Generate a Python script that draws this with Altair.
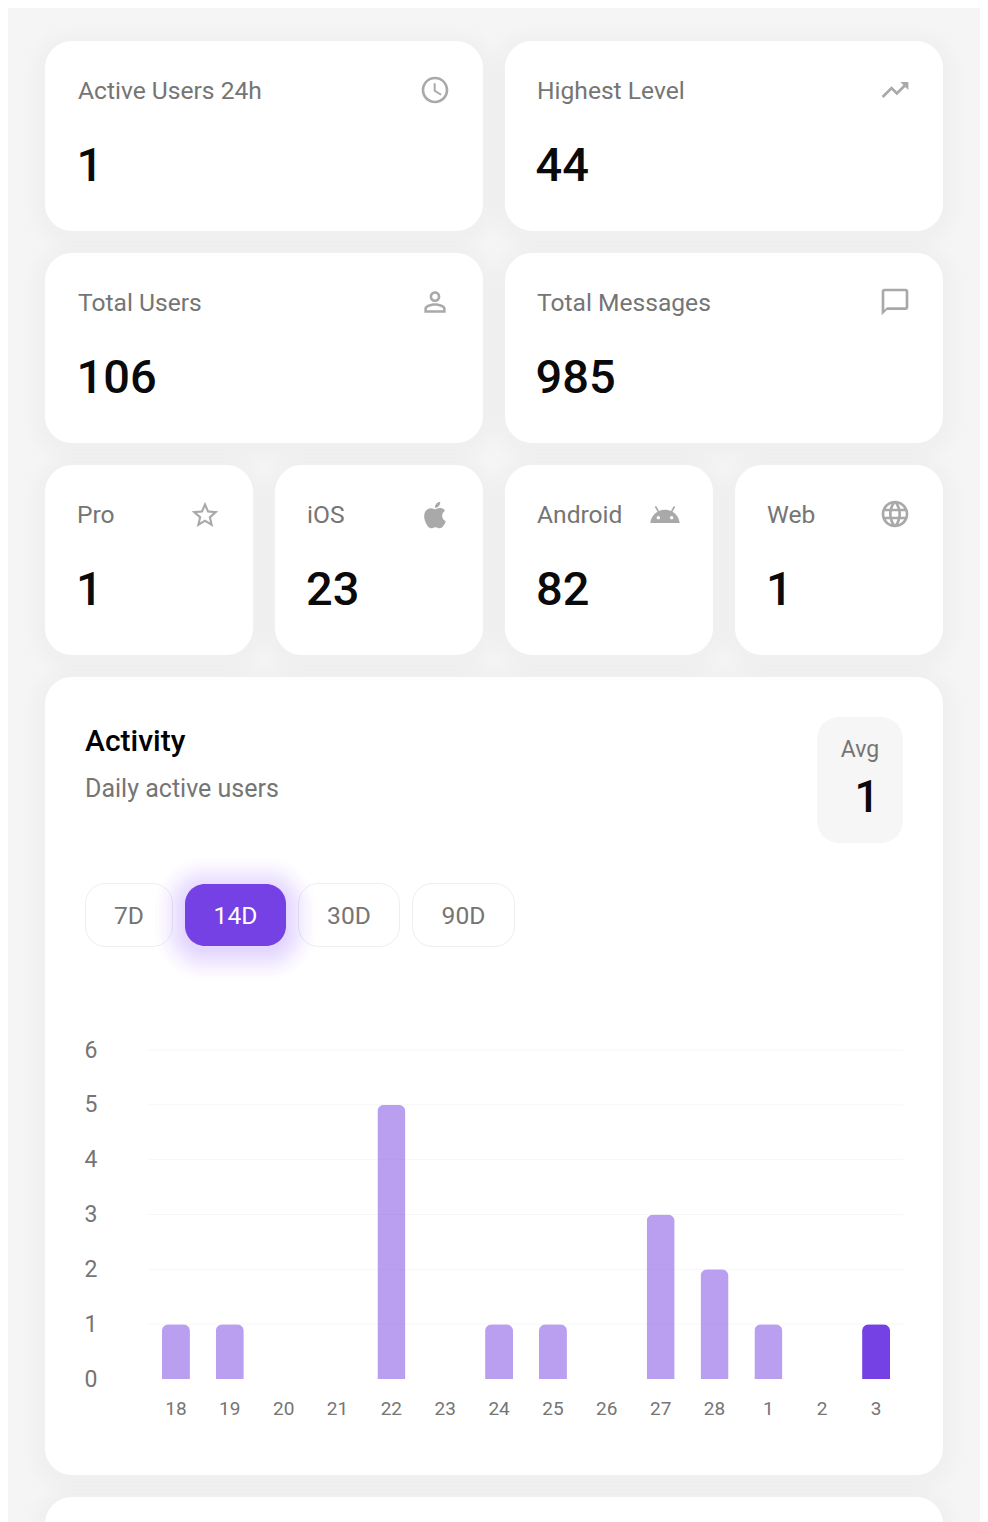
import altair as alt
import pandas as pd

# stats shown in the cards
wide_titles = ['Active Users 24h', 'Highest Level', 'Total Users', 'Total Messages']
wide_values = ['1', '44', '106', '985']
small_titles = ['Pro', 'iOS', 'Android', 'Web']
small_values = ['1', '23', '82', '1']

# activity chart
days = ['18', '19', '20', '21', '22', '23', '24', '25', '26', '27', '28', '1', '2', '3']
active_users = [1, 1, 0, 0, 5, 0, 1, 1, 0, 3, 2, 1, 0, 1]
y_ticks = [0, 1, 2, 3, 4, 5, 6]
ranges = ['7D', '14D', '30D', '90D']
today = '3'

PURPLE = '#7540e4'
GREY = '#757575'
ICON = '#a9a9a9'
FONT = 'Roboto'
# plot area in page pixels, the page margin takes 8px
PLOT_X, PLOT_Y, PLOT_W, PLOT_H = 148, 1050, 755, 329
MARGIN = 8

one = pd.DataFrame({'n': [0]})

# material icons, 24 unit paths
ICONS = {
    'clock': 'M11.99 2C6.47 2 2 6.48 2 12s4.47 10 9.99 10C17.52 22 22 17.52 22 12S17.52 2 11.99 2zM12 20c-4.42 0-8-3.58-8-8s3.58-8 8-8 8 3.58 8 8-3.58 8-8 8zm.5-13H11v6l5.25 3.15.75-1.23-4.5-2.67z',
    'trend': 'M16 6l2.29 2.29-4.88 4.88-4-4L2 16.59 3.41 18l6-6 4 4 6.3-6.29L22 12V6z',
    'person': 'M12 5.9c1.16 0 2.1.94 2.1 2.1s-.94 2.1-2.1 2.1S9.9 9.16 9.9 8s.94-2.1 2.1-2.1m0 9c2.97 0 6.1 1.46 6.1 2.1v1.1H5.9V17c0-.64 3.13-2.1 6.1-2.1M12 4C9.79 4 8 5.79 8 8s1.79 4 4 4 4-1.79 4-4-1.79-4-4-4zm0 9c-2.67 0-8 1.34-8 4v3h16v-3c0-2.66-5.33-4-8-4z',
    'chat': 'M20 2H4c-1.1 0-2 .9-2 2v18l4-4h14c1.1 0 2-.9 2-2V4c0-1.1-.9-2-2-2zm0 14H6l-2 2V4h16v12z',
    'star': 'M22 9.24l-7.19-.62L12 2 9.19 8.63 2 9.24l5.46 4.73L5.82 21 12 17.27 18.18 21l-1.63-7.03L22 9.24zM12 15.4l-3.76 2.27 1-4.28-3.32-2.88 4.38-.38L12 6.1l1.71 4.04 4.38.38-3.32 2.88 1 4.28L12 15.4z',
    'apple': 'M18.71,19.5C17.88,20.74 17,21.95 15.66,21.97C14.32,22 13.89,21.18 12.37,21.18C10.84,21.18 10.37,21.95 9.1,22C7.79,22.05 6.8,20.68 5.96,19.47C4.25,17 2.94,12.45 4.7,9.39C5.57,7.87 7.13,6.91 8.82,6.88C10.1,6.86 11.32,7.75 12.11,7.75C12.89,7.75 14.37,6.68 15.92,6.84C16.57,6.87 18.39,7.1 19.56,8.82C19.47,8.88 17.39,10.1 17.41,12.63C17.44,15.65 20.06,16.66 20.09,16.67C20.06,16.74 19.67,18.11 18.71,19.5M13,3.5C13.73,2.67 14.94,2.04 15.94,2C16.07,3.17 15.6,4.35 14.9,5.19C14.21,6.04 13.07,6.7 11.95,6.61C11.8,5.46 12.36,4.26 13,3.5Z',
    'android': 'M17.6 9.48l1.84-3.18c.16-.31.04-.69-.26-.85-.29-.15-.65-.06-.83.22l-1.88 3.24c-2.86-1.21-6.08-1.21-8.94 0L5.65 5.67c-.19-.29-.58-.38-.87-.2-.28.18-.37.54-.22.83L6.4 9.48C3.3 11.25 1.28 14.44 1 18h22c-.28-3.56-2.3-6.75-5.4-8.52zM7 15.25c-.69 0-1.25-.56-1.25-1.25s.56-1.25 1.25-1.25 1.25.56 1.25 1.25-.56 1.25-1.25 1.25zm10 0c-.69 0-1.25-.56-1.25-1.25s.56-1.25 1.25-1.25 1.25.56 1.25 1.25-.56 1.25-1.25 1.25z',
    'globe': 'M11.99 2C6.47 2 2 6.48 2 12s4.47 10 9.99 10C17.52 22 22 17.52 22 12S17.52 2 11.99 2zm6.93 6h-2.95c-.32-1.25-.78-2.45-1.38-3.56 1.84.63 3.37 1.91 4.33 3.56zM12 4.04c.83 1.2 1.48 2.53 1.91 3.96h-3.82c.43-1.43 1.08-2.76 1.91-3.96zM4.26 14C4.1 13.36 4 12.69 4 12s.1-1.36.26-2h3.38c-.08.66-.14 1.32-.14 2 0 .68.06 1.34.14 2H4.26zm.82 2h2.95c.32 1.25.78 2.45 1.38 3.56-1.84-.63-3.37-1.9-4.33-3.56zm2.95-8H5.08c.96-1.66 2.49-2.93 4.33-3.56C8.81 5.55 8.35 6.75 8.03 8zM12 19.96c-.83-1.2-1.48-2.53-1.91-3.96h3.82c-.43 1.43-1.08 2.76-1.91 3.96zM14.34 14H9.66c-.09-.66-.16-1.32-.16-2 0-.68.07-1.35.16-2h4.68c.09.65.16 1.32.16 2 0 .68-.07 1.34-.16 2zm.25 5.56c.6-1.11 1.06-2.31 1.38-3.56h2.95c-.96 1.65-2.49 2.93-4.33 3.56zM16.36 14c.08-.66.14-1.32.14-2 0-.68-.06-1.34-.14-2h3.38c.16.64.26 1.31.26 2s-.1 1.36-.26 2h-3.38z',
}


# page pixels -> offsets from the plot area
def box(x0, y0, x1, y1, **mark):
    return alt.Chart(one).mark_rect(**mark).encode(
        x=alt.value(x0 - PLOT_X), x2=alt.value(x1 - PLOT_X),
        y=alt.value(y0 - PLOT_Y), y2=alt.value(y1 - PLOT_Y),
    )


def label(text, x, y, size=24.6, color=GREY, weight=400, align='left'):
    return alt.Chart(one).mark_text(
        font=FONT, fontSize=size, fontWeight=weight, color=color, align=align, baseline='alphabetic'
    ).encode(x=alt.value(x - PLOT_X), y=alt.value(y - PLOT_Y), text=alt.value(text))


def icon(name, x, y):
    return alt.Chart(one).mark_point(
        shape=ICONS[name], size=7.11, filled=True, color=ICON, opacity=1
    ).encode(x=alt.value(x - PLOT_X), y=alt.value(y - PLOT_Y))


wide_boxes = [(45, 41, 483, 231), (505, 41, 943, 231), (45, 253, 483, 443), (505, 253, 943, 443)]
small_boxes = [(45, 465, 253, 655), (275, 465, 483, 655), (505, 465, 713, 655), (735, 465, 943, 655)]
main_box = (45, 677, 943, 1475)
next_box = (45, 1497, 943, 1560)
all_boxes = wide_boxes + small_boxes + [main_box, next_box]

layers = []

# soft card shadows
for grow in [20, 16, 12, 8, 4]:
    for x0, y0, x1, y1 in all_boxes:
        layers.append(box(x0 - grow, y0 - grow + 4, x1 + grow, y1 + grow + 4,
                          color='#000000', opacity=0.0055, cornerRadius=27 + grow))
for x0, y0, x1, y1 in all_boxes:
    layers.append(box(x0, y0, x1, y1, color='#ffffff', cornerRadius=27))

# stat cards
for i, (x0, y0, x1, y1) in enumerate(wide_boxes):
    layers.append(label(wide_titles[i], x0 + 33 - (i % 2), y0 + 58))
    layers.append(label(wide_values[i], x0 + 31.5 - (i % 2), y0 + 140, size=47, color='#0a0a0a', weight=500))
for i, (x0, y0, x1, y1) in enumerate(small_boxes):
    layers.append(label(small_titles[i], x0 + 32, y0 + 58))
    layers.append(label(small_values[i], x0 + 31, y0 + 140, size=47, color='#0a0a0a', weight=500))

for name, x, y in [('clock', 419, 74), ('trend', 879, 74), ('person', 419, 286), ('chat', 879, 286),
                   ('star', 189, 499), ('apple', 419, 499), ('android', 649, 499), ('globe', 879, 498)]:
    layers.append(icon(name, x, y))

# activity header
layers.append(label('Activity', 85, 751, size=30, color='#000000', weight=500))
layers.append(label('Daily active users', 85, 797, size=25))
layers.append(box(817, 717, 903, 843, color='#f6f6f6', cornerRadius=22))
layers.append(label('Avg', 860, 757, size=23, align='center'))
layers.append(label('1', 867, 812, size=44, color='#0a0a0a', weight=500, align='center'))

# range buttons
button_boxes = [(85.5, 883.5, 172.5, 946.5), (185, 884, 286, 946), (298.5, 883.5, 399.5, 946.5), (412.5, 883.5, 514.5, 946.5)]
for i in [0, 2, 3]:
    x0, y0, x1, y1 = button_boxes[i]
    layers.append(box(x0, y0, x1, y1, color='#ffffff', stroke='#eeeeee', strokeWidth=1, cornerRadius=20))
x0, y0, x1, y1 = button_boxes[1]
for grow in [30, 26, 23, 20, 18, 16, 14, 12, 10, 8, 6, 4, 2]:
    layers.append(box(x0 - grow, y0 - grow + 4, x1 + grow, y1 + grow + 4,
                      color=PURPLE, opacity=0.017, cornerRadius=20 + grow))
layers.append(box(x0, y0, x1, y1, color=PURPLE, cornerRadius=20))
for i, r in enumerate(ranges):
    x0, y0, x1, y1 = button_boxes[i]
    layers.append(label(r, (x0 + x1) / 2, 924, color='#ffffff' if i == 1 else GREY, align='center'))

# activity chart
y_scale = alt.Scale(domain=[0, y_ticks[-1]], nice=False)
x_scale = alt.Scale(domain=days, range=[1, PLOT_W], paddingInner=0.48, paddingOuter=0.24)
y_axis = alt.Axis(
    values=y_ticks, format='d', labelFont=FONT, labelFontSize=23, labelColor=GREY, labelPadding=51,
    ticks=False, domain=False, grid=False, zindex=1)

grid = alt.Chart(pd.DataFrame({'tick': y_ticks[1:]})).mark_rule(color='#f7f7f7', strokeWidth=1).encode(
    y=alt.Y('tick:Q', scale=y_scale, title=None, axis=y_axis)
)

bars = alt.Chart(pd.DataFrame({'day': days, 'users': active_users})).mark_bar(
    color=PURPLE, cornerRadiusTopLeft=7, cornerRadiusTopRight=7
).encode(
    x=alt.X('day:N', sort=days, scale=x_scale, title=None, axis=alt.Axis(
        labelAngle=0, labelFont=FONT, labelFontSize=19, labelColor=GREY, labelPadding=20,
        ticks=False, domain=False, grid=False, zindex=1)),
    y=alt.Y('users:Q', scale=y_scale, title=None, axis=y_axis),
    opacity=alt.condition(alt.datum.day == today, alt.value(1), alt.value(0.5)),
)
layers += [grid, bars]

# whole svg is 972 wide by 1514 high, the rest of the window is page margin
left = PLOT_X - MARGIN
top = PLOT_Y - MARGIN
chart = alt.layer(*layers).properties(
    width=PLOT_W,
    height=PLOT_H,
    padding={'left': left, 'top': top, 'right': 972 - left - PLOT_W, 'bottom': 1514 - top - PLOT_H},
    autosize=alt.AutoSizeParams(type='none'),
    background='#f5f5f5',
).configure_view(stroke=None)

chart.save("out.html", embed_options={"renderer": "svg", "actions": False})
